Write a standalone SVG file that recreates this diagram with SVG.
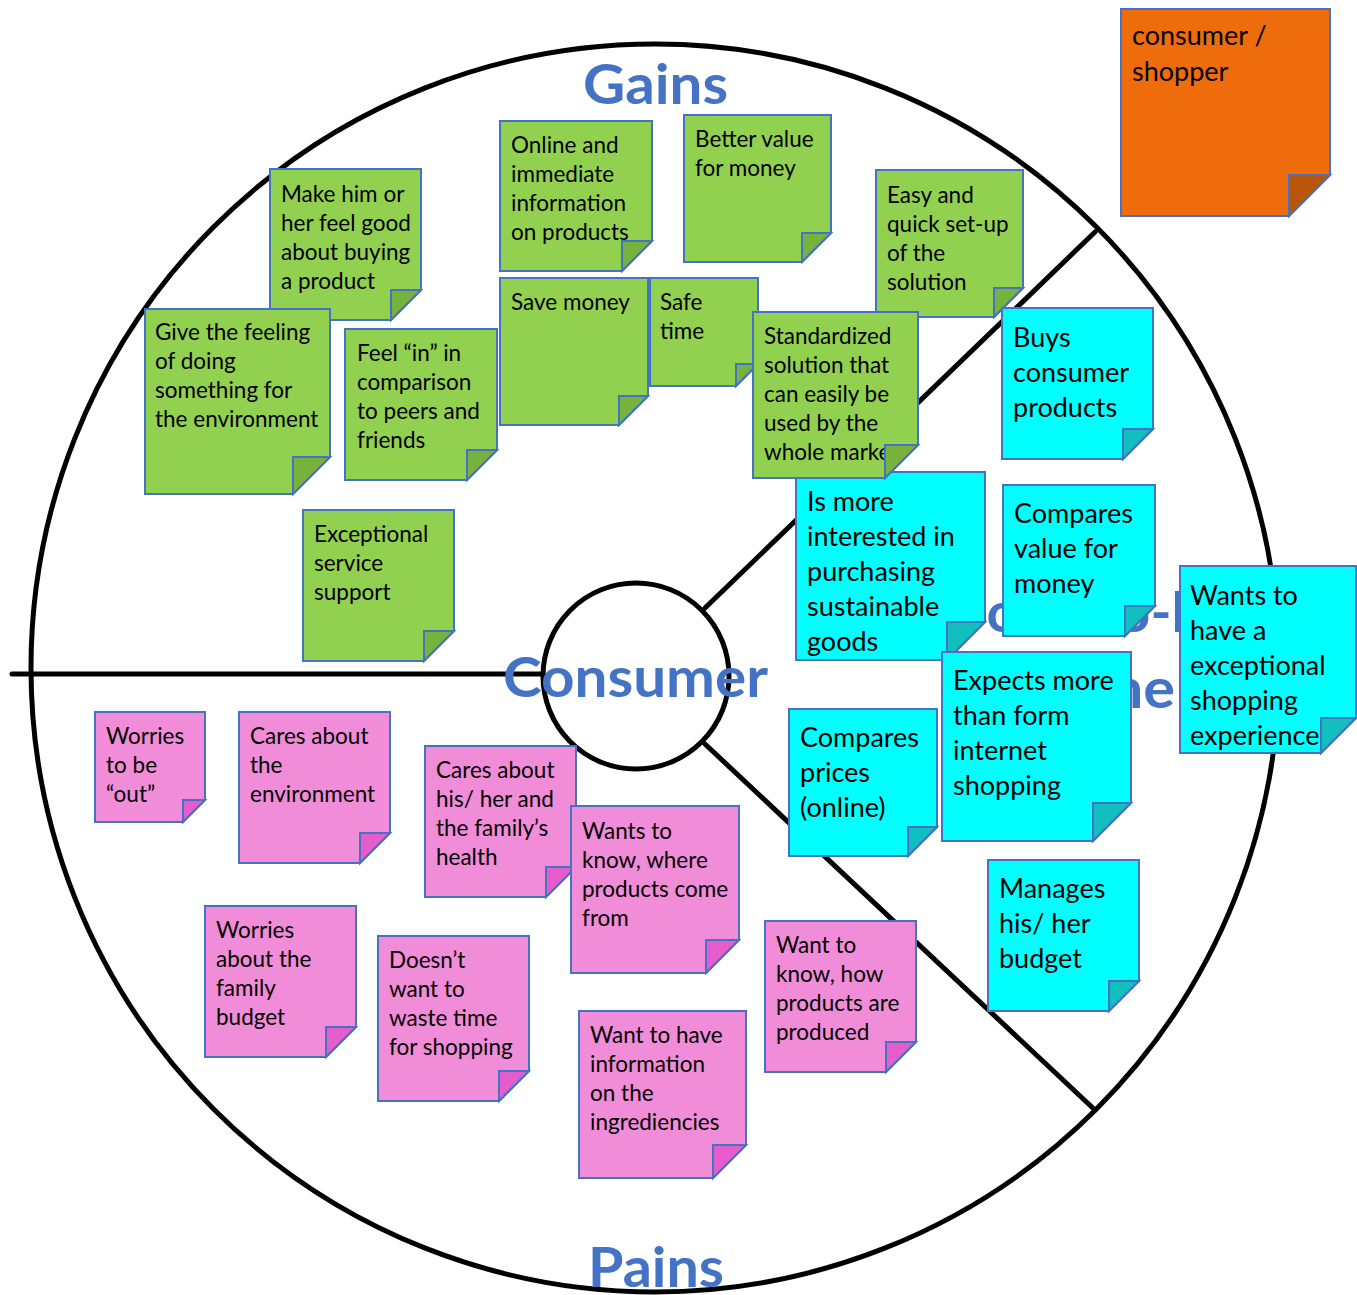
<svg xmlns="http://www.w3.org/2000/svg" width="1357" height="1295" viewBox="0 0 1357 1295">
<style>
.ln{fill:none;stroke:#000;stroke-width:5;stroke-linecap:round}
.g{fill:#92D050;stroke:#4472C4;stroke-width:2}
.gf{fill:#77B23C;stroke:#4472C4;stroke-width:2}
.c{fill:#00FFFF;stroke:#4472C4;stroke-width:2}
.cf{fill:#12BFBF;stroke:#4472C4;stroke-width:2}
.p{fill:#F18CD8;stroke:#4472C4;stroke-width:2}
.pf{fill:#E65CCB;stroke:#4472C4;stroke-width:2}
.o{fill:#EE6C0C;stroke:#4472C4;stroke-width:2}
.of{fill:#BA5509;stroke:#4472C4;stroke-width:2}
.t{font-family:Lato,"Liberation Sans",sans-serif;font-size:22.5px;fill:#000}
.tl{font-family:Lato,"Liberation Sans",sans-serif;font-size:27px;fill:#000}
.h{font-family:Lato,"Liberation Sans",sans-serif;font-weight:bold;font-size:56px;fill:#4472C4}
</style>
<rect width="1357" height="1295" fill="#fff"/>
<g id="connectors">
<circle class="ln" cx="655" cy="668" r="624"/>
<circle class="ln" cx="636" cy="676" r="93"/>
<path class="ln" d="M12,674 H543"/>
<path class="ln" d="M705,608 L1095,232"/>
<path class="ln" d="M705,744 L1095,1110"/>
</g>
<g id="label-jobs">
<text class="h" x="963" y="632" textLength="292" lengthAdjust="spacingAndGlyphs">Jobs-to-be-</text>
<text class="h" x="1042" y="708" textLength="133" lengthAdjust="spacingAndGlyphs">done</text>
</g>
<g id="n-make"><path class="g" d="M270,169 H421 V290 L391,320 H270Z"/><text class="t" x="281"><tspan x="281" y="202">Make him or</tspan><tspan x="281" y="231">her feel good</tspan><tspan x="281" y="260">about buying</tspan><tspan x="281" y="289">a product</tspan></text><path class="gf" d="M391,290 H421 L391,320Z"/></g>
<g id="n-online"><path class="g" d="M500,121 H652 V241 L622,271 H500Z"/><text class="t"><tspan x="511" y="153">Online and</tspan><tspan x="511" y="182">immediate</tspan><tspan x="511" y="211">information</tspan><tspan x="511" y="240">on products</tspan></text><path class="gf" d="M622,241 H652 L622,271Z"/></g>
<g id="n-better"><path class="g" d="M684,115 H831 V233 L802,262 H684Z"/><text class="t"><tspan x="695" y="147">Better value</tspan><tspan x="695" y="176">for money</tspan></text><path class="gf" d="M802,233 H831 L802,262Z"/></g>
<g id="n-easy"><path class="g" d="M876,170 H1023 V288 L994,317 H876Z"/><text class="t"><tspan x="887" y="203">Easy and</tspan><tspan x="887" y="232">quick set-up</tspan><tspan x="887" y="261">of the</tspan><tspan x="887" y="290">solution</tspan></text><path class="gf" d="M994,288 H1023 L994,317Z"/></g>
<g id="n-give"><path class="g" d="M145,309 H330 V457 L293,494 H145Z"/><text class="t"><tspan x="155" y="340">Give the feeling</tspan><tspan x="155" y="369">of doing</tspan><tspan x="155" y="398">something for</tspan><tspan x="155" y="427">the environment</tspan></text><path class="gf" d="M293,457 H330 L293,494Z"/></g>
<g id="n-feel"><path class="g" d="M345,329 H497 V450 L467,480 H345Z"/><text class="t"><tspan x="357" y="361">Feel “in” in</tspan><tspan x="357" y="390">comparison</tspan><tspan x="357" y="419">to peers and</tspan><tspan x="357" y="448">friends</tspan></text><path class="gf" d="M467,450 H497 L467,480Z"/></g>
<g id="n-save"><path class="g" d="M500,278 H648 V396 L619,425 H500Z"/><text class="t"><tspan x="511" y="310">Save money</tspan></text><path class="gf" d="M619,396 H648 L619,425Z"/></g>
<g id="n-safe"><path class="g" d="M650,278 H758 V364 L736,386 H650Z"/><text class="t"><tspan x="660" y="310">Safe</tspan><tspan x="660" y="339">time</tspan></text><path class="gf" d="M736,364 H758 L736,386Z"/></g>
<g id="n-exceptional"><path class="g" d="M303,510 H454 V631 L424,661 H303Z"/><text class="t"><tspan x="314" y="542">Exceptional</tspan><tspan x="314" y="571">service</tspan><tspan x="314" y="600">support</tspan></text><path class="gf" d="M424,631 H454 L424,661Z"/></g>
<g id="n-ismore"><path class="c" d="M796,472 H985 V622 L947,660 H796Z"/><text class="tl"><tspan x="807" y="511">Is more</tspan><tspan x="807" y="546">interested in</tspan><tspan x="807" y="581">purchasing</tspan><tspan x="807" y="616">sustainable</tspan><tspan x="807" y="651">goods</tspan></text><path class="cf" d="M947,622 H985 L947,660Z"/></g>
<g id="n-standardized"><path class="g" d="M753,312 H918 V445 L885,478 H753Z"/><text class="t"><tspan x="764" y="344">Standardized</tspan><tspan x="764" y="373">solution that</tspan><tspan x="764" y="402">can easily be</tspan><tspan x="764" y="431">used by the</tspan><tspan x="764" y="460">whole market</tspan></text><path class="gf" d="M885,445 H918 L885,478Z"/></g>
<g id="n-buys"><path class="c" d="M1002,308 H1153 V429 L1123,459 H1002Z"/><text class="tl"><tspan x="1013" y="347">Buys</tspan><tspan x="1013" y="382">consumer</tspan><tspan x="1013" y="417">products</tspan></text><path class="cf" d="M1123,429 H1153 L1123,459Z"/></g>
<g id="n-comparesvalue"><path class="c" d="M1003,485 H1155 V606 L1125,636 H1003Z"/><text class="tl"><tspan x="1014" y="523">Compares</tspan><tspan x="1014" y="558">value for</tspan><tspan x="1014" y="593">money</tspan></text><path class="cf" d="M1125,606 H1155 L1125,636Z"/></g>
<g id="n-wants"><path class="c" d="M1180,566 H1356 V718 L1321,753 H1180Z"/><text class="tl"><tspan x="1190" y="605">Wants to</tspan><tspan x="1190" y="640">have a</tspan><tspan x="1190" y="675">exceptional</tspan><tspan x="1190" y="710">shopping</tspan><tspan x="1190" y="745">experience</tspan></text><path class="cf" d="M1321,718 H1356 L1321,753Z"/></g>
<g id="n-expects"><path class="c" d="M942,652 H1131 V803 L1093,841 H942Z"/><text class="tl"><tspan x="953" y="690">Expects more</tspan><tspan x="953" y="725">than form</tspan><tspan x="953" y="760">internet</tspan><tspan x="953" y="795">shopping</tspan></text><path class="cf" d="M1093,803 H1131 L1093,841Z"/></g>
<g id="n-comparesprices"><path class="c" d="M789,709 H937 V827 L908,856 H789Z"/><text class="tl"><tspan x="800" y="747">Compares</tspan><tspan x="800" y="782">prices</tspan><tspan x="800" y="817">(online)</tspan></text><path class="cf" d="M908,827 H937 L908,856Z"/></g>
<g id="n-manages"><path class="c" d="M988,860 H1139 V981 L1109,1011 H988Z"/><text class="tl"><tspan x="999" y="898">Manages</tspan><tspan x="999" y="933">his/ her</tspan><tspan x="999" y="968">budget</tspan></text><path class="cf" d="M1109,981 H1139 L1109,1011Z"/></g>
<g id="n-worriesout"><path class="p" d="M95,712 H205 V800 L183,822 H95Z"/><text class="t"><tspan x="106" y="744">Worries</tspan><tspan x="106" y="773">to be</tspan><tspan x="106" y="802">“out”</tspan></text><path class="pf" d="M183,800 H205 L183,822Z"/></g>
<g id="n-caresenv"><path class="p" d="M239,712 H390 V833 L360,863 H239Z"/><text class="t"><tspan x="250" y="744">Cares about</tspan><tspan x="250" y="773">the</tspan><tspan x="250" y="802">environment</tspan></text><path class="pf" d="M360,833 H390 L360,863Z"/></g>
<g id="n-careshealth"><path class="p" d="M425,746 H576 V867 L546,897 H425Z"/><text class="t"><tspan x="436" y="778">Cares about</tspan><tspan x="436" y="807">his/ her and</tspan><tspan x="436" y="836">the family’s</tspan><tspan x="436" y="865">health</tspan></text><path class="pf" d="M546,867 H576 L546,897Z"/></g>
<g id="n-wantswhere"><path class="p" d="M571,806 H739 V940 L706,973 H571Z"/><text class="t"><tspan x="582" y="839">Wants to</tspan><tspan x="582" y="868">know, where</tspan><tspan x="582" y="897">products come</tspan><tspan x="582" y="926">from</tspan></text><path class="pf" d="M706,940 H739 L706,973Z"/></g>
<g id="n-worriesbudget"><path class="p" d="M205,906 H356 V1027 L326,1057 H205Z"/><text class="t"><tspan x="216" y="938">Worries</tspan><tspan x="216" y="967">about the</tspan><tspan x="216" y="996">family</tspan><tspan x="216" y="1025">budget</tspan></text><path class="pf" d="M326,1027 H356 L326,1057Z"/></g>
<g id="n-doesnt"><path class="p" d="M378,936 H529 V1071 L499,1101 H378Z"/><text class="t"><tspan x="389" y="968">Doesn’t</tspan><tspan x="389" y="997">want to</tspan><tspan x="389" y="1026">waste time</tspan><tspan x="389" y="1055">for shopping</tspan></text><path class="pf" d="M499,1071 H529 L499,1101Z"/></g>
<g id="n-wantinfo"><path class="p" d="M579,1011 H746 V1145 L713,1178 H579Z"/><text class="t"><tspan x="590" y="1043">Want to have</tspan><tspan x="590" y="1072">information</tspan><tspan x="590" y="1101">on the</tspan><tspan x="590" y="1130">ingrediencies</tspan></text><path class="pf" d="M713,1145 H746 L713,1178Z"/></g>
<g id="n-wanthow"><path class="p" d="M765,921 H916 V1042 L886,1072 H765Z"/><text class="t"><tspan x="776" y="953">Want to</tspan><tspan x="776" y="982">know, how</tspan><tspan x="776" y="1011">products are</tspan><tspan x="776" y="1040">produced</tspan></text><path class="pf" d="M886,1042 H916 L886,1072Z"/></g>
<g id="n-consumer"><path class="o" d="M1121,9 H1330 V175 L1289,216 H1121Z"/><text class="tl"><tspan x="1132" y="45">consumer /</tspan><tspan x="1132" y="81">shopper</tspan></text><path class="of" d="M1289,175 H1330 L1289,216Z"/></g>
<g id="titles">
<text class="h" x="583" y="104" textLength="145" lengthAdjust="spacingAndGlyphs">Gains</text>
<text class="h" x="503" y="697" textLength="265" lengthAdjust="spacingAndGlyphs">Consumer</text>
<text class="h" x="588" y="1287" textLength="136" lengthAdjust="spacingAndGlyphs">Pains</text>
</g>
</svg>
